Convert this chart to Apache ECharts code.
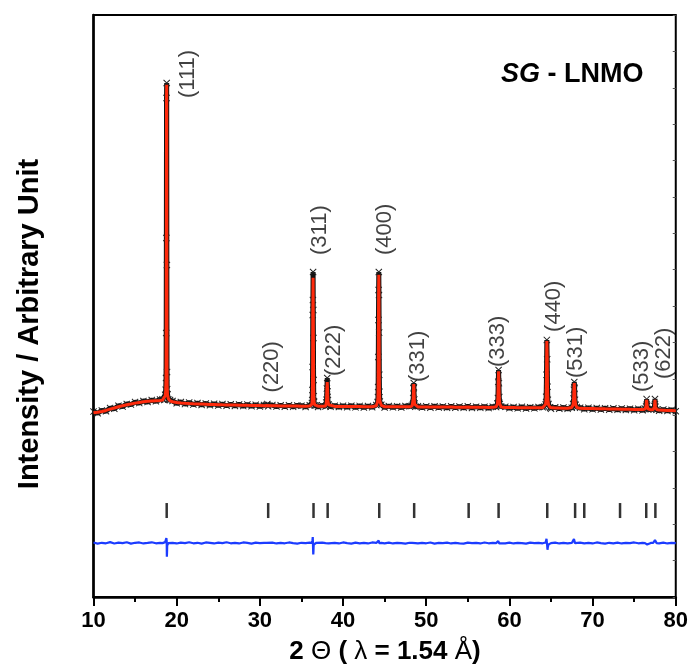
<!DOCTYPE html>
<html><head><meta charset="utf-8">
<script src="https://cdn.jsdelivr.net/npm/echarts@6/dist/echarts.min.js"></script>
<style>html,body{margin:0;padding:0;background:#fff}#c{width:691px;height:669px}</style>
</head><body><div id="c"></div>
<script>
// ---- data ----
const twoTheta = [
  10,10.5,11,11.5,12,12.5,13,13.5,14,14.5,15,15.5,16,16.5,17,17.5,18,
  18.3,18.5,18.62,18.68,18.72,18.74,18.76,18.78,18.8,18.82,18.84,18.86,18.9,19,19.2,
  19.5,20,20.5,21,21.5,22,22.5,23,23.5,24,24.5,25,25.5,26,26.5,27,27.5,28,28.5,29,29.5,30,30.5,
  30.8,30.9,31,
  31.5,32,32.5,33,33.5,34,34.5,35,35.5,36,
  36.26,36.3,36.32,36.34,36.36,36.38,36.4,36.42,36.44,36.46,36.48,36.52,36.6,36.8,
  37,37.5,
  37.9,37.98,38.02,38.06,38.1,38.14,38.18,38.26,38.5,
  39,39.5,40,40.5,41,41.5,42,42.5,43,43.5,
  44,44.16,44.2,44.22,44.24,44.26,44.28,44.3,44.32,44.34,44.36,44.38,44.42,44.6,
  45,45.5,46,46.5,47,47.5,48,
  48.3,48.4,48.44,48.48,48.5,48.52,48.56,48.6,48.7,
  49,49.5,50,50.5,51,51.5,52,52.5,53,53.5,54,54.5,55,55.5,56,56.5,57,57.5,58,
  58.4,58.56,58.62,58.66,58.7,58.74,58.78,58.84,59,
  59.5,60,60.5,61,61.5,62,62.5,63,63.5,64,
  64.2,64.36,64.42,64.46,64.5,64.54,64.58,64.62,64.7,64.9,
  65,65.5,66,66.5,67,
  67.5,67.66,67.72,67.76,67.8,67.84,67.88,67.96,68.1,
  68.5,69,69.5,70,70.5,71,71.5,72,72.5,73,73.5,74,74.5,75,75.5,76,
  76.3,76.44,76.5,76.56,76.7,
  77,
  77.3,77.44,77.5,77.56,77.7,
  78,78.5,79,79.5,80
];
const yCalc = [
  540,555,580,610,650,685,720,750,780,805,830,850,870,883,895,903,910,
  920,950,1050,1200,1550,2900,5900,10000,10400,5000,1800,1300,1080,960,895,
  870,850,835,825,817,810,805,800,795,790,786,782,778,775,772,770,767,765,762,760,757,755,752,
  755,785,752,
  749,747,745,744,742,741,740,739,738,740,
  800,950,1200,1900,3500,3900,4600,3600,2800,1500,1050,850,780,745,
  738,737,
  745,820,950,1250,1465,1200,900,780,738,
  731,730,729,728,727,726,725,724,724,723,
  750,880,1000,1300,2200,3300,4300,4690,4050,2900,1700,1150,900,760,
  721,720,720,719,718,718,717,
  740,800,960,1300,1400,1300,960,800,740,
  716,715,715,714,714,713,712,711,710,709,708,707,710,705,704,703,702,701,702,
  720,800,1000,1450,1790,1450,1000,810,710,
  697,696,695,694,692,691,690,688,687,690,
  710,800,1000,1700,2700,2200,1300,950,780,700,
  684,682,681,679,677,
  700,780,950,1250,1430,1250,950,790,700,
  672,669,667,665,662,660,657,655,652,650,648,645,642,640,637,635,
  650,740,930,740,650,
  630,
  640,730,930,730,640,
  620,615,610,605,600
];
const yObs = [
  575,525,610,585,680,660,750,725,805,785,860,830,895,865,920,885,940,
  945,925,1080,1230,1585,2939,5795,10005,10456,4983,1766,1250,1100,935,920,
  895,825,865,800,845,785,830,775,820,765,810,760,800,750,795,745,790,740,785,735,780,730,775,
  770,800,735,
  770,725,765,720,765,718,760,752,715,765,
  830,920,1224,1916,3480,3931,4773,3630,2788,1525,1040,870,760,765,
  715,758,
  730,850,930,1270,1585,1180,920,790,718,
  752,712,748,708,752,703,746,700,742,708,
  770,860,1010,1315,2217,3329,4231,4773,4081,2950,1680,1170,880,780,
  700,742,702,738,698,742,736,
  750,790,980,1280,1435,1310,940,820,720,
  738,698,732,693,737,698,727,690,732,692,727,688,732,684,722,688,722,680,722,
  710,820,980,1470,1826,1430,1010,800,730,
  717,678,712,673,717,668,707,673,712,707,
  720,790,1020,1680,2730,2150,1320,930,800,690,
  664,702,663,697,658,
  690,800,970,1230,1465,1270,930,780,710,
  692,648,687,643,682,638,677,633,672,628,667,623,662,618,657,613,
  660,730,950,750,640,
  646,
  650,740,955,720,630,
  600,635,595,625,585
];
const yDiff = [
  -3360,-3395,-3370,-3385,-3350,-3390,-3365,-3380,-3355,-3395,-3370,-3360,-3390,-3375,-3355,-3385,-3370,
  -3380,-3360,-3350,-3340,-3300,-3280,-3230,-3200,-3310,-3790,-3650,-3450,-3400,-3380,-3370,
  -3370,-3390,-3365,-3380,-3355,-3385,-3370,-3395,-3360,-3375,-3390,-3365,-3380,-3355,-3385,-3370,-3390,-3360,-3375,-3395,-3365,-3380,-3370,
  -3375,-3360,-3385,
  -3365,-3390,-3370,-3385,-3360,-3380,-3395,-3370,-3380,-3365,
  -3370,-3350,-3300,-3250,-3200,-3230,-3260,-3720,-3650,-3500,-3420,-3390,-3380,-3370,
  -3385,-3365,
  -3380,-3360,-3350,-3340,-3320,-3400,-3410,-3390,-3375,
  -3370,-3390,-3360,-3380,-3395,-3365,-3385,-3370,-3390,-3360,
  -3375,-3370,-3360,-3340,-3320,-3330,-3300,-3290,-3340,-3380,-3420,-3400,-3380,-3370,
  -3385,-3365,-3390,-3370,-3380,-3395,-3370,
  -3370,-3365,-3360,-3350,-3345,-3380,-3390,-3375,-3380,
  -3390,-3370,-3385,-3360,-3395,-3375,-3380,-3365,-3390,-3370,-3385,-3395,-3365,-3380,-3370,-3390,-3360,-3385,-3375,
  -3380,-3370,-3350,-3320,-3300,-3360,-3390,-3385,-3370,
  -3385,-3365,-3390,-3370,-3380,-3395,-3365,-3380,-3370,-3385,
  -3380,-3360,-3320,-3250,-3200,-3450,-3580,-3500,-3420,-3390,
  -3380,-3365,-3390,-3375,-3385,
  -3375,-3360,-3320,-3260,-3230,-3300,-3380,-3390,-3370,
  -3365,-3385,-3370,-3390,-3360,-3380,-3395,-3370,-3385,-3365,-3390,-3375,-3380,-3360,-3385,-3370,
  -3380,-3400,-3440,-3420,-3390,
  -3375,
  -3370,-3330,-3290,-3350,-3380,
  -3385,-3365,-3390,-3370,-3380
];
const braggPos = [18.8,31.0,36.45,38.15,44.35,48.55,55.1,58.7,64.55,67.9,69.0,73.3,76.45,77.55];
const hklLabels = ['(111)','(220)','(311)','(222)','(400)','(331)','(333)','(440)','(531)','(533)','(622)'];
const hklPos    = [18.8, 30.9, 36.4, 38.1, 44.3, 48.5, 58.7, 64.5, 67.8, 76.5, 77.5];
const hklTop    = [10456, 790, 4773, 1585, 4773, 1435, 1826, 2730, 1465, 950, 955];
const xTickValues = [10,20,30,40,50,60,70,80];

// ---- layout / style ----
const FONT = '"Liberation Sans", Arial, Helvetica, sans-serif';
const labelNudge = [[21,15],[5,-12],[7,-17],[7,-2],[6,-17],[4,-1],[-1,-3],[7,-8],[2,-4],[-5,-7],[9,-20]];
const braggLevel = -2400;
const XMARK = 'path://M1,0L5,4L9,0L10,1L6,5L10,9L9,10L5,6L1,10L0,9L4,5L0,1Z';

const chart = echarts.init(document.getElementById('c'), null, {renderer:'canvas'});
chart.setOption({
  animation: false,
  backgroundColor: '#fff',
  title: {
    text: '{i|SG}{b| - LNMO}', left: 496, top: 56,
    textStyle: { rich: {
      i: {fontStyle:'italic', fontWeight:'bold', fontSize:27, fontFamily:FONT, color:'#000'},
      b: {fontWeight:'bold', fontSize:27, fontFamily:FONT, color:'#000'}
    }}
  },
  grid: {left: 93.5, right: 14.5, top: 15, bottom: 72, show: true, borderColor: '#000', borderWidth: 2},
  xAxis: {
    type: 'value', min: xTickValues[0], max: xTickValues[xTickValues.length-1], interval: 10,
    axisLine: {show: true, onZero: false, lineStyle: {color:'#000', width: 2.5}},
    axisTick: {show: true, length: 9, lineStyle: {color:'#000', width: 2}},
    minorTick: {show: true, splitNumber: 2, length: 5, lineStyle: {color:'#000', width: 2}},
    splitLine: {show: false},
    axisLabel: {fontSize: 22, fontWeight: 'bold', color: '#000', fontFamily: FONT, margin: 13}
  },
  yAxis: [
    {type:'value', min:-5000, max:12500, axisLine:{show:true, onZero:false, lineStyle:{color:'#000', width:2.5}},
     axisTick:{show:false}, axisLabel:{show:false}, splitLine:{show:false}},
    {type:'value', position:'right', min:0, max:16, interval:1, axisLine:{show:false},
     axisTick:{show:true, inside:true, length:3, lineStyle:{color:'#555', width:1}}, axisLabel:{show:false}, splitLine:{show:false}}
  ],
  graphic: [
    {type:'text', x: 30, y: 324, rotation: Math.PI/2,
     style:{text:'Intensity / Arbitrary Unit', font:'bold 29px ' + FONT, fill:'#000', align:'center', verticalAlign:'middle', textAlign:'center', textVerticalAlign:'middle'}},
    {type:'text', x: 385, y: 652,
     style:{text:'{b|2 }{n|Θ}{b| ( }{n|λ}{b| = 1.54 }{n|Å}{b|)}', align:'center', verticalAlign:'middle', textAlign:'center', textVerticalAlign:'middle',
       rich:{ b:{fontWeight:'bold', fontSize:26, fontFamily:FONT, fill:'#000'}, n:{fontSize:26, fontFamily:FONT, fill:'#000'} }}}
  ],
  series: [
    {name:'Observed', type:'line', data: twoTheta.map((x,i)=>[x, yObs[i]]),
     symbol: XMARK, symbolSize: 7, showAllSymbol: true,
     lineStyle:{color:'#111', width:5}, itemStyle:{color:'#222'}, z: 2, emphasis:{disabled:true}},
    {name:'Calculated', type:'line', data: twoTheta.map((x,i)=>[x, yCalc[i]]), showSymbol:false,
     lineStyle:{color:'#ff2a0c', width:3}, z: 3, emphasis:{disabled:true}},
    {name:'Difference', type:'line', data: twoTheta.map((x,i)=>[x, yDiff[i]]), showSymbol:false,
     lineStyle:{color:'#1c3cff', width:2.2}, z: 3, emphasis:{disabled:true}},
    {name:'Bragg', type:'scatter', data: braggPos.map(p=>[p, braggLevel]), symbol:'rect', symbolSize:[2.5,15],
     itemStyle:{color:'#000'}, z: 4, emphasis:{disabled:true}},
    {name:'hkl', type:'scatter', symbolSize: 0, z: 5, emphasis:{disabled:true},
     data: hklPos.map((p,i)=>({value:[p, hklTop[i]], label:{position: labelNudge[i]}})),
     label:{show:true, formatter:(prm)=>hklLabels[prm.dataIndex], rotate:90, align:'left', verticalAlign:'middle',
            fontSize:22, fontFamily:FONT, color:'#111'}}
  ]
});
</script></body></html>
